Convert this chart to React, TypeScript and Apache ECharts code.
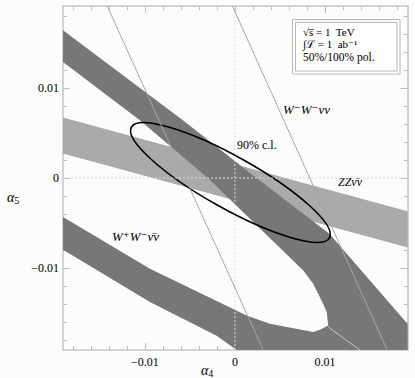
import React, { useEffect, useRef } from "react";
import * as echarts from "echarts";

// ---- axis ranges & ticks ----
const X_RANGE = [-0.0191, 0.0192];
const Y_RANGE = [-0.0191, 0.0191];
const MAJOR_TICKS = [-0.01, 0, 0.01];
const MINOR_TICKS = [
  -0.018, -0.016, -0.014, -0.012, -0.008, -0.006, -0.004, -0.002,
  0.002, 0.004, 0.006, 0.008, 0.012, 0.014, 0.016, 0.018,
];

// ---- regions (alpha4, alpha5) ----
// ZZ nu-bar nu band (light grey)
const ZZ_BAND = [
  [-0.0191, 0.00671],
  [0.0192, -0.0037],
  [0.0192, -0.00773],
  [-0.0191, 0.00271],
];

// W+W- nu-bar nu band (dark grey ring, part visible inside the frame)
const WPWM_BAND = [
  [-0.0191, 0.01641],
  [-0.00578, 0.00641],
  [0.0024, 0.0],
  [0.0105, -0.0062],
  [0.0192, -0.0162],
  [0.0192, -0.0191],
  [0.0002, -0.0191],
  [-0.00203, -0.01752],
  [-0.00944, -0.01378],
  [-0.0191, -0.00796],
  [-0.0191, -0.00433],
  [-0.00944, -0.01007],
  [0.0013, -0.01526],
  [0.00389, -0.01618],
  [0.0087, -0.01711],
  [0.00944, -0.01684],
  [0.01037, -0.01637],
  [0.0102, -0.01489],
  [0.0098, -0.01396],
  [0.0087, -0.01173],
  [0.0076, -0.01026],
  [-0.003, 0.0],
  [-0.01056, 0.00641],
  [-0.0191, 0.01289],
];

// W-W- nu nu band edges (thin lines)
const WMWM_LEFT = [
  [-0.01419, 0.0191],
  [0.00314, -0.0191],
];
const WMWM_RIGHT = [
  [-0.00028, 0.0191],
  [0.01692, -0.0191],
];
const EDGE_LINE = [
  [0.01037, -0.01655],
  [0.01389, -0.0191],
];

// 90% c.l. ellipse: centre, semi-axes, tilt (degrees)
const CL90_CENTER = [-0.0005, -0.0005];
const CL90_AXES = [0.0126, 0.0029];
const CL90_ANGLE = -29.2;

const SERIF = '"Liberation Serif", "DejaVu Serif", serif';

function fmt(v: number) {
  if (Math.abs(v) < 1e-12) return "0";
  return (v < 0 ? "\u2212" : "") + Math.abs(v).toFixed(2);
}

function xAxis(position: string, ticks: number[], len: number, main: boolean) {
  return {
    type: "value",
    position,
    min: X_RANGE[0],
    max: X_RANGE[1],
    splitLine: { show: false },
    axisLine: {
      show: main,
      onZero: false,
      lineStyle: { color: "#c6c6c6", width: 1.5 },
    },
    axisTick: {
      show: true,
      inside: true,
      length: len,
      customValues: ticks,
      lineStyle: { color: "#bdbdbd", width: 1 },
    },
    axisLabel: {
      show: main && position === "bottom",
      customValues: MAJOR_TICKS,
      formatter: fmt,
      fontFamily: SERIF,
      fontSize: 12,
      color: "#000",
      margin: 6,
    },
  };
}

function yAxis(position: string, ticks: number[], len: number, main: boolean) {
  return {
    type: "value",
    position,
    min: Y_RANGE[0],
    max: Y_RANGE[1],
    splitLine: { show: false },
    axisLine: {
      show: main,
      onZero: false,
      lineStyle: { color: "#c6c6c6", width: 1.5 },
    },
    axisTick: {
      show: true,
      inside: true,
      length: len,
      customValues: ticks,
      lineStyle: { color: "#bdbdbd", width: 1 },
    },
    axisLabel: {
      show: main && position === "left",
      customValues: MAJOR_TICKS,
      formatter: fmt,
      fontFamily: SERIF,
      fontSize: 12,
      color: "#000",
      margin: 4,
    },
  };
}

function polygonSeries(points: number[][], color: string) {
  return {
    type: "custom",
    clip: true,
    silent: true,
    data: [[0, 0]],
    renderItem: (_p: any, api: any) => ({
      type: "polygon",
      shape: { points: points.map((pt) => api.coord(pt)) },
      style: { fill: color, stroke: "none" },
    }),
  };
}

function lineSeries(points: number[][], color: string, width: number, dash?: any) {
  return {
    type: "line",
    data: points,
    symbol: "none",
    silent: true,
    clip: true,
    lineStyle: { color, width, type: dash || "solid" },
  };
}

function txt(x: number, y: number, text: string, font: string) {
  return {
    type: "text",
    x,
    y,
    style: { text, font, fill: "#000", verticalAlign: "middle" },
  };
}

export default function App() {
  const ref = useRef<HTMLDivElement>(null);
  useEffect(() => {
    if (!ref.current) return;
    const chart = echarts.init(ref.current, undefined, { renderer: "svg" });
    const option = {
      animation: false,
      backgroundColor: "#fcfcfc",
      grid: { left: 63, right: 7.3, top: 6, bottom: 28, containLabel: false },
      xAxis: [
        xAxis("bottom", MAJOR_TICKS, 7, true),
        xAxis("bottom", MINOR_TICKS, 4, false),
        xAxis("top", MAJOR_TICKS, 7, true),
        xAxis("top", MINOR_TICKS, 4, false),
      ],
      yAxis: [
        yAxis("left", MAJOR_TICKS, 7, true),
        yAxis("left", MINOR_TICKS, 4, false),
        yAxis("right", MAJOR_TICKS, 7, true),
        yAxis("right", MINOR_TICKS, 4, false),
      ],
      series: [
        polygonSeries(ZZ_BAND, "#aaaaaa"),
        polygonSeries(WPWM_BAND, "#777777"),
        lineSeries([[0, Y_RANGE[0]], [0, Y_RANGE[1]]], "#dcdcdc", 1, [2, 2]),
        lineSeries([[X_RANGE[0], 0], [X_RANGE[1], 0]], "#dcdcdc", 1, [2, 2]),
        lineSeries(WMWM_LEFT, "#a6a6a6", 1),
        lineSeries(WMWM_RIGHT, "#a6a6a6", 1),
        lineSeries(EDGE_LINE, "#c8c8c8", 1),
        {
          type: "custom",
          clip: true,
          silent: true,
          data: [[CL90_CENTER[0], CL90_CENTER[1]]],
          renderItem: (_p: any, api: any) => {
            const c = api.coord(CL90_CENTER);
            const th = (CL90_ANGLE * Math.PI) / 180;
            const pa = api.coord([
              CL90_CENTER[0] + CL90_AXES[0] * Math.cos(th),
              CL90_CENTER[1] + CL90_AXES[0] * Math.sin(th),
            ]);
            const rx = Math.hypot(pa[0] - c[0], pa[1] - c[1]);
            const ry = api.size([CL90_AXES[1], CL90_AXES[1]])[1];
            const rot = -Math.atan2(pa[1] - c[1], pa[0] - c[0]);
            return {
              type: "ellipse",
              x: c[0],
              y: c[1],
              rotation: rot,
              shape: { cx: 0, cy: 0, rx, ry },
              style: { fill: "none", stroke: "#000", lineWidth: 1.6 },
            };
          },
        },
      ],
      graphic: [
        {
          type: "rect",
          shape: { x: 292.5, y: 19.5, width: 107.5, height: 54.5 },
          style: { fill: "#fdfdfd", stroke: "#b8b8b8", lineWidth: 1 },
        },
        {
          type: "rect",
          shape: { x: 295.5, y: 22.5, width: 101.5, height: 48.5 },
          style: { fill: "none", stroke: "#b8b8b8", lineWidth: 1 },
        },
        txt(303, 31.5, "\u221As\u0305 = 1  TeV", `11px ${SERIF}`),
        txt(303, 44, "\u222B\u2112 = 1  ab\u207B\u00B9", `11px ${SERIF}`),
        txt(303, 56.5, "50%/100% pol.", `11.5px ${SERIF}`),
        txt(283, 109, "W\u207BW\u207B\u03BD\u03BD", `italic 13px ${SERIF}`),
        txt(237, 145, "90% c.l.", `12px ${SERIF}`),
        txt(338, 182, "ZZ\u03BD\u0304\u03BD", `italic 12px ${SERIF}`),
        txt(112, 236, "W\u207AW\u207B\u03BD\u0304\u03BD", `italic 13px ${SERIF}`),
        {
          type: "text",
          x: 201,
          y: 370,
          style: {
            text: "{a|\u03B1}{b|4}",
            fill: "#000",
            verticalAlign: "middle",
            rich: {
              a: { font: `italic 14px ${SERIF}`, fill: "#000" },
              b: { font: `10px ${SERIF}`, fill: "#000", padding: [6, 0, 0, 0] },
            },
          },
        },
        {
          type: "text",
          x: 7,
          y: 197,
          style: {
            text: "{a|\u03B1}{b|5}",
            fill: "#000",
            verticalAlign: "middle",
            rich: {
              a: { font: `italic 14px ${SERIF}`, fill: "#000" },
              b: { font: `10px ${SERIF}`, fill: "#000", padding: [6, 0, 0, 0] },
            },
          },
        },
      ],
    };
    chart.setOption(option as any);
    return () => chart.dispose();
  }, []);
  return (
    <div
      ref={ref}
      style={{ position: "fixed", left: 0, top: 0, width: 415, height: 378 }}
    />
  );
}
